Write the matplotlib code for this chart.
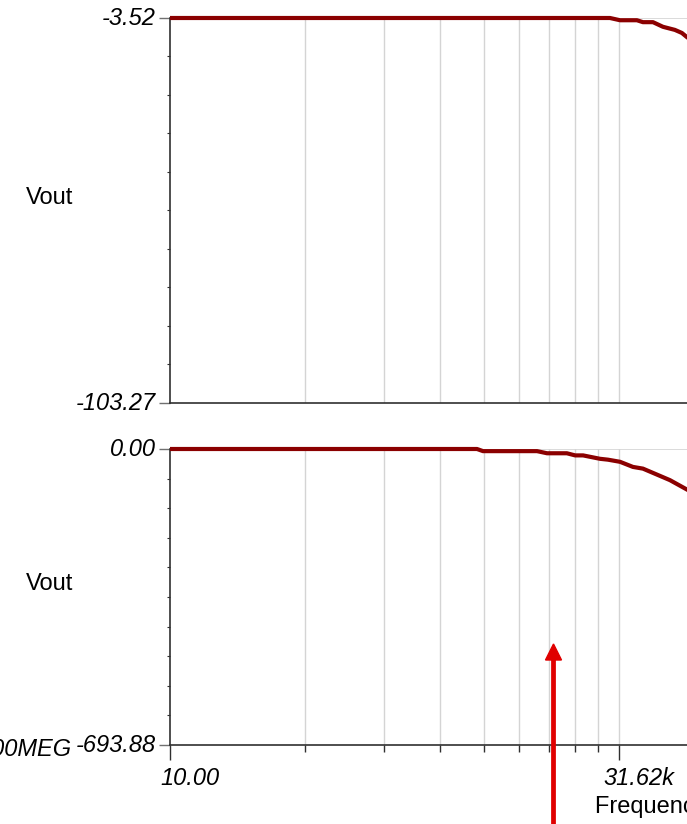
import numpy as np
import matplotlib.pyplot as plt
from matplotlib.patches import FancyArrow
from matplotlib.transforms import ScaledTranslation

plt.rcParams['font.family'] = ['Liberation Sans', 'DejaVu Sans']

# frequency sweep, 10 Hz .. 100 MHz, major ticks every 3.5 decades
f_start, f_mid, f_stop = 10.0, 31.62e3, 100e6
x_tick_labels = ['10.00', '31.62k']

# magnitude trace
f_mag = [10, 26.9e3, 32.2e3, 43.6e3, 48.6e3, 58.2e3, 69.6e3, 86.2e3, 97.8e3, 110e3]
v_mag = [-3.52, -3.52, -4.1, -4.1, -4.6, -4.6, -5.8, -6.6, -7.4, -8.8]
mag_lim = (-103.27, -3.52)

# phase trace
f_ph = [10, 2472, 2754, 7261, 8690, 12.4e3, 14.4e3, 16.6e3, 22.5e3, 25.9e3,
        32.2e3, 40.6e3, 48.6e3, 62.5e3, 78.9e3, 110e3]
v_ph = [0, 0, -5, -5, -10, -10, -15, -15, -23, -25,
        -30, -42, -46, -60, -73, -97]
ph_lim = (-693.88, 0.00)

W, H = 687, 824
FS = 17
fig = plt.figure(figsize=(W / 100, H / 100), dpi=100)

# the x axes run past the right edge of the figure out to 100MEG
x0 = 170
x_end = x0 + 449 * 2
trace_col = '#8b0000'
grid_col = '#d4d4d4'
axis_col = '#303030'

# TINA-style minor grid: log-spaced between 10 and 31.62k
ratio = f_mid / f_start
minor = [f_start * ratio ** np.log10(k) for k in range(2, 10)]
minor += [f_mid * ratio ** np.log10(k) for k in range(2, 10)]


def px(dx, dy):
    return ScaledTranslation(dx / 100, dy / 100, fig.dpi_scale_trans)


def make_axes(top, bottom, lim, label, xf, yv, show_x):
    ax = fig.add_axes([x0 / W, (H - bottom) / H, (x_end - x0) / W, (bottom - top) / H])
    ax.set_xscale('log')
    ax.set_xlim(f_start, f_stop)
    ax.set_ylim(*lim)
    for s in ['top', 'right']:
        ax.spines[s].set_visible(False)
    for s in ['left', 'bottom']:
        ax.spines[s].set_color(axis_col)
        ax.spines[s].set_linewidth(1.2)
    for f in minor:
        ax.axvline(f, color=grid_col, lw=1, zorder=0)
    ax.axvline(f_mid, color=grid_col, lw=1, zorder=0)
    ax.axhline(lim[1], color=grid_col, lw=1.2, zorder=0)

    ax.plot(xf, yv, color=trace_col, lw=3.0, solid_capstyle='butt',
            solid_joinstyle='round', zorder=3, clip_on=False)

    # y ticks: labelled ends, one long middle tick and tiny minors
    ax.set_yticks(list(lim))
    ax.set_yticklabels(['%.2f' % v for v in lim], fontsize=FS, style='italic')
    ax.tick_params(axis='y', length=8, width=1.0, color='#707070', pad=2)
    ax.set_yticks(np.linspace(lim[0], lim[1], 11)[1:-1], minor=True)
    ax.tick_params(axis='y', which='minor', length=2, width=0.8, color=axis_col)
    for t in ax.yaxis.get_majorticklabels():
        t.set_transform(t.get_transform() + px(0, 2))

    if show_x:
        ax.set_xticks([f_start, f_mid])
        ax.set_xticklabels(x_tick_labels, fontsize=FS, style='italic')
        ax.set_xticks(minor, minor=True)
        ax.xaxis.set_minor_formatter(plt.NullFormatter())
        ax.tick_params(axis='x', which='major', length=11, width=1.0, color=axis_col, pad=5)
        ax.tick_params(axis='x', which='minor', length=5, width=1.0, color=axis_col)
        for t in ax.xaxis.get_majorticklabels():
            t.set_transform(t.get_transform() + px(20, 0))
    else:
        ax.set_xticks([])
        ax.set_xticks([], minor=True)

    fig.text(50 / W, 1 - ((top + bottom) / 2 - 13) / H, label, fontsize=FS,
             ha='center', va='center')
    return ax


ax1 = make_axes(18, 403, mag_lim, 'Vout', f_mag, v_mag, False)
ax2 = make_axes(449, 745, ph_lim, 'Vout', f_ph, v_ph, True)

# leftover label from the neighbouring axis
fig.text(72 / W, 1 - 749 / H, '100MEG', fontsize=FS, style='italic',
         ha='right', va='center')
fig.text(595 / W, 1 - 807 / H, 'Frequency (Hz)', fontsize=FS, ha='left', va='center')

# red marker arrow
fig.patches.append(FancyArrow(
    553.5 / W, 0, 0, (H - 644) / H, width=4 / H, head_width=16 / W,
    head_length=16 / H, length_includes_head=True, color='#e00000',
    transform=fig.transFigure, figure=fig))

fig.savefig('out.png', dpi=100)
